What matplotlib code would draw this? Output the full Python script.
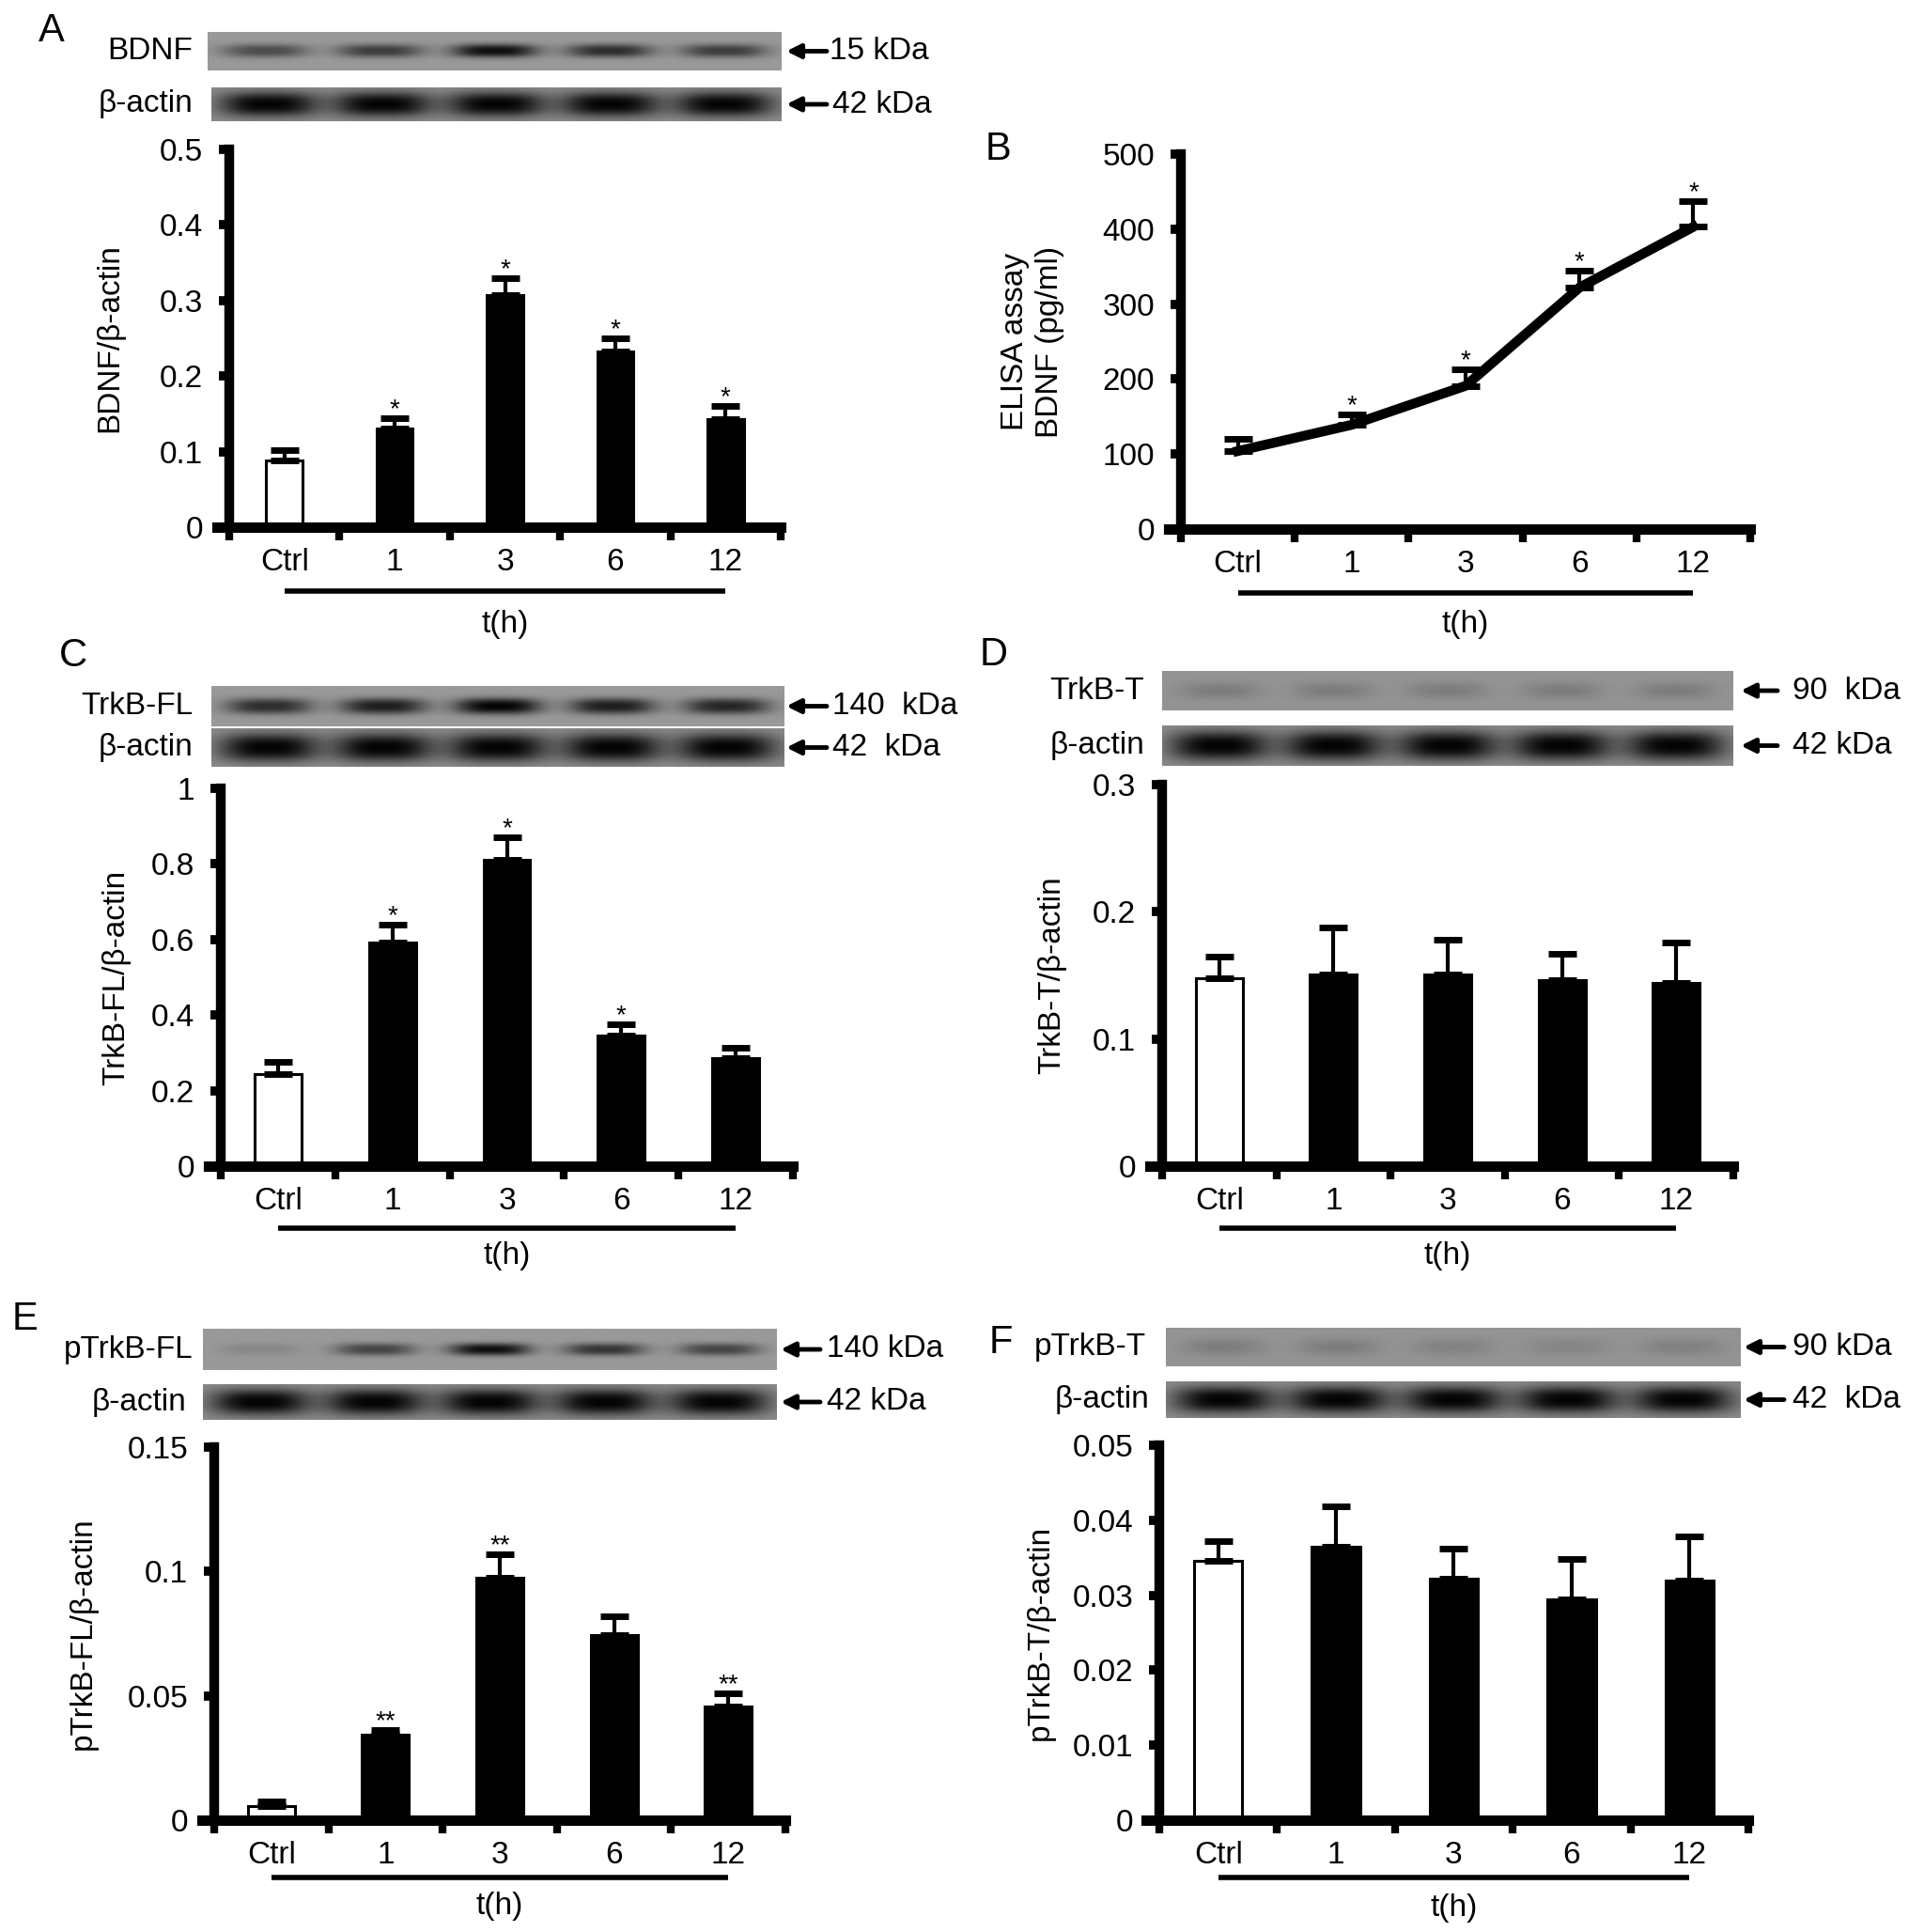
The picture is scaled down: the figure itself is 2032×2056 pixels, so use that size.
import numpy as np
import matplotlib
matplotlib.use('Agg')
import matplotlib.pyplot as plt
from matplotlib.patches import FancyArrowPatch
from matplotlib.transforms import blended_transform_factory

plt.rcParams['font.family'] = ['Liberation Sans', 'DejaVu Sans']
plt.rcParams['font.size'] = 24

# ---- data ----
categories = ['Ctrl', '1', '3', '6', '12']

bdnf_ratio = [0.088, 0.131, 0.307, 0.233, 0.143]
bdnf_err = [0.014, 0.013, 0.022, 0.017, 0.017]
bdnf_sig = ['', '*', '*', '*', '*']

elisa_bdnf = [104, 139, 191, 322, 403]
elisa_err = [16, 14, 22, 23, 34]
elisa_sig = ['', '*', '*', '*', '*']

trkb_fl = [0.245, 0.592, 0.81, 0.346, 0.286]
trkb_fl_err = [0.032, 0.047, 0.06, 0.029, 0.027]
trkb_fl_sig = ['', '*', '*', '*', '']

trkb_t = [0.148, 0.151, 0.151, 0.146, 0.144]
trkb_t_err = [0.017, 0.037, 0.027, 0.021, 0.032]
trkb_t_sig = ['', '', '', '', '']

ptrkb_fl = [0.0058, 0.0343, 0.0976, 0.0745, 0.0458]
ptrkb_fl_err = [0.0019, 0.002, 0.0094, 0.0076, 0.0053]
ptrkb_fl_sig = ['', '**', '**', '', '**']

ptrkb_t = [0.0346, 0.0365, 0.0322, 0.0295, 0.0319]
ptrkb_t_err = [0.0026, 0.0053, 0.004, 0.0053, 0.006]
ptrkb_t_sig = ['', '', '', '', '']

# y ticks
bdnf_ticks = [0, 0.1, 0.2, 0.3, 0.4, 0.5]
bdnf_ticklabels = ['0', '0.1', '0.2', '0.3', '0.4', '0.5']
elisa_ticks = [0, 100, 200, 300, 400, 500]
elisa_ticklabels = ['0', '100', '200', '300', '400', '500']
trkb_fl_ticks = [0, 0.2, 0.4, 0.6, 0.8, 1.0]
trkb_fl_ticklabels = ['0', '0.2', '0.4', '0.6', '0.8', '1']
trkb_t_ticks = [0, 0.1, 0.2, 0.3]
trkb_t_ticklabels = ['0', '0.1', '0.2', '0.3']
ptrkb_fl_ticks = [0, 0.05, 0.1, 0.15]
ptrkb_fl_ticklabels = ['0', '0.05', '0.1', '0.15']
ptrkb_t_ticks = [0, 0.01, 0.02, 0.03, 0.04, 0.05]
ptrkb_t_ticklabels = ['0', '0.01', '0.02', '0.03', '0.04', '0.05']

# western blot band darkness per lane
bdnf_band = [0.5, 0.6, 0.9, 0.7, 0.6]
trkb_fl_band = [0.7, 0.8, 0.97, 0.8, 0.75]
trkb_t_band = [0.15, 0.15, 0.15, 0.15, 0.15]
ptrkb_fl_band = [0.12, 0.55, 0.9, 0.65, 0.55]
ptrkb_t_band = [0.15, 0.15, 0.12, 0.1, 0.13]
actin_band = [0.97, 0.97, 0.97, 0.97, 0.97]

W, H = 2032, 2056
fig = plt.figure(figsize=(W / 100, H / 100), dpi=100)


def fx(x):
    return x / W


def fy(y):
    return 1 - y / H


def rect(x0, y0, x1, y1):
    return [x0 / W, 1 - y1 / H, (x1 - x0) / W, (y1 - y0) / H]


def draw_blot(box, bands, band_w, band_h, bg, name, name_x, arrow, kda_x, kda):
    x0, y0, x1, y1 = box
    ax = fig.add_axes(rect(x0, y0, x1, y1))
    yy, xx = np.mgrid[0:1:80j, 0:1:600j]
    img = np.full(xx.shape, bg)
    for i, d in enumerate(bands):
        cx = (i + 0.5) / len(bands)
        shape = np.exp(-np.abs((xx - cx) / band_w) ** 3 - np.abs((yy - 0.5) / band_h) ** 2.5)
        img = img - d * bg * shape
    ax.imshow(np.clip(img, 0, 1), cmap='gray', vmin=0, vmax=1, aspect='auto',
              interpolation='bilinear')
    ax.set_xticks([])
    ax.set_yticks([])
    for s in ax.spines.values():
        s.set_visible(False)
    yc = (y0 + y1) / 2
    fig.text(fx(name_x), fy(yc), name, ha='right', va='center')
    fig.add_artist(FancyArrowPatch((fx(arrow[1]), fy(yc)), (fx(arrow[0]), fy(yc)),
                                   transform=fig.transFigure, arrowstyle='-|>',
                                   mutation_scale=22, lw=3.5, color='black',
                                   shrinkA=0, shrinkB=0))
    fig.text(fx(kda_x), fy(yc), kda, ha='left', va='center')


def panel(axis, values, errs, sig, ticks, ticklabels, ylabel, ylab_x,
          under_y, th_y, letter, letter_xy, width=0.41, line=False):
    yx, right, top, bottom = axis
    unit = (right - yx) / 5
    ax = fig.add_axes(rect(yx - 0.11 * unit, top, right, bottom))
    ax.patch.set_alpha(0)
    x = np.arange(len(categories))
    lower = np.zeros(len(values))
    if line:
        ax.errorbar(x, values, yerr=[lower, errs], color='black', lw=7.5,
                    capsize=11, capthick=5, elinewidth=3, zorder=3)
    else:
        colors = ['white'] + ['black'] * (len(values) - 1)
        ax.bar(x, values, width, color=colors, edgecolor='black', lw=2.2, zorder=2)
        ax.errorbar(x, values, yerr=[lower, errs], fmt='none', ecolor='black',
                    capsize=11, capthick=5, elinewidth=3, zorder=3)
    for i, s in enumerate(sig):
        if s:
            ax.annotate(s, (i, values[i] + errs[i]), xytext=(0, -3),
                        textcoords='offset points', ha='center', va='bottom',
                        fontsize=20, annotation_clip=False)

    for s in ['top', 'right']:
        ax.spines[s].set_visible(False)
    ax.spines['left'].set_position(('data', -0.5))
    ax.spines['left'].set_linewidth(7.5)
    ax.spines['bottom'].set_linewidth(8)

    ax.set_xticks(np.arange(-0.5, 5, 1))
    ax.set_xticklabels([])
    ax.tick_params(axis='x', which='major', length=10, width=6, direction='out')
    ax.set_xticks(x, minor=True)
    ax.set_xticklabels(categories, minor=True)
    ax.tick_params(axis='x', which='minor', length=0, pad=16, labelsize=24)
    ax.set_yticks(ticks, ticklabels)
    ax.tick_params(axis='y', length=8, width=7, pad=12, labelsize=24)

    bt = blended_transform_factory(fig.transFigure, ax.transAxes)
    ax.text(fx(ylab_x), 0.5, ylabel, transform=bt, rotation=90,
            ha='center', va='center', linespacing=1.25)
    ut = blended_transform_factory(ax.transData, fig.transFigure)
    ax.plot([0, 4], [fy(under_y)] * 2, color='black', lw=4,
            transform=ut, clip_on=False, solid_capstyle='butt')
    ax.text(2, fy(th_y), 't(h)', transform=ut, ha='center', va='center')

    ax.set_xlim(-0.61, 4.5)
    ax.set_ylim(ticks[0], ticks[-1])
    fig.text(fx(letter_xy[0]), fy(letter_xy[1]), letter, fontsize=30,
             ha='center', va='center')
    return ax


# A
draw_blot((221, 34, 831, 75), bdnf_band, 0.075, 0.17, 0.6, 'BDNF', 205, (837, 880), 883, '15 kDa')
draw_blot((225, 93, 831, 129), actin_band, 0.085, 0.36, 0.55, 'β-actin', 205, (837, 880), 886, '42 kDa')
panel((244, 831, 159, 561), bdnf_ratio, bdnf_err, bdnf_sig, bdnf_ticks, bdnf_ticklabels,
      'BDNF/β-actin', 117, 629, 664, 'A', (55, 33), width=0.33)

# B
panel((1257, 1863, 164, 563), elisa_bdnf, elisa_err, elisa_sig, elisa_ticks, elisa_ticklabels,
      'ELISA assay\nBDNF (pg/ml)', 1099, 631, 664, 'B', (1063, 159), line=True)

# C
draw_blot((225, 730, 834, 773), trkb_fl_band, 0.075, 0.2, 0.6, 'TrkB-FL', 205, (837, 880), 886, '140  kDa')
draw_blot((225, 775, 834, 816), actin_band, 0.085, 0.36, 0.55, 'β-actin', 205, (837, 880), 886, '42  kDa')
panel((235, 844, 839, 1241), trkb_fl, trkb_fl_err, trkb_fl_sig, trkb_fl_ticks, trkb_fl_ticklabels,
      'TrkB-FL/β-actin', 124, 1307, 1337, 'C', (78, 698))

# D
draw_blot((1237, 714, 1845, 756), trkb_t_band, 0.07, 0.22, 0.58, 'TrkB-T', 1218, (1853, 1892), 1908, '90  kDa')
draw_blot((1237, 772, 1845, 815), actin_band, 0.085, 0.36, 0.55, 'β-actin', 1218, (1853, 1892), 1908, '42 kDa')
panel((1237, 1845, 835, 1241), trkb_t, trkb_t_err, trkb_t_sig, trkb_t_ticks, trkb_t_ticklabels,
      'TrkB-T/β-actin', 1120, 1307, 1337, 'D', (1058, 697))

# E
draw_blot((216, 1414, 826, 1458), ptrkb_fl_band, 0.07, 0.15, 0.6, 'pTrkB-FL', 205, (831, 873), 880, '140 kDa')
draw_blot((216, 1473, 826, 1511), actin_band, 0.085, 0.36, 0.55, 'β-actin', 198, (831, 873), 880, '42 kDa')
panel((228, 836, 1540, 1937), ptrkb_fl, ptrkb_fl_err, ptrkb_fl_sig, ptrkb_fl_ticks, ptrkb_fl_ticklabels,
      'pTrkB-FL/β-actin', 88, 1998, 2029, 'E', (26, 1404))

# F
draw_blot((1241, 1413, 1853, 1454), ptrkb_t_band, 0.07, 0.22, 0.58, 'pTrkB-T', 1220, (1856, 1899), 1908, '90 kDa')
draw_blot((1241, 1470, 1853, 1509), actin_band, 0.085, 0.36, 0.55, 'β-actin', 1223, (1856, 1899), 1908, '42  kDa')
panel((1234, 1861, 1538, 1937), ptrkb_t, ptrkb_t_err, ptrkb_t_sig, ptrkb_t_ticks, ptrkb_t_ticklabels,
      'pTrkB-T/β-actin', 1107, 1998, 2031, 'F', (1065, 1429))

fig.savefig('out.png', dpi=100)
